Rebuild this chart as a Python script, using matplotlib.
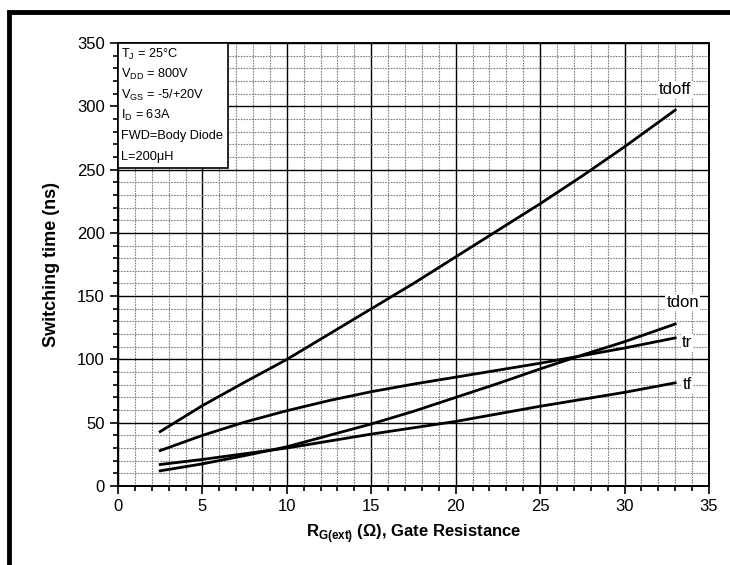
import matplotlib.pyplot as plt
from matplotlib.patches import Rectangle
from matplotlib.ticker import MultipleLocator

plt.rcParams['font.family'] = ['Liberation Sans', 'DejaVu Sans']

# Gate resistance (ohm) and switching times (ns)
rg = [2.5, 5, 7.5, 10, 12.5, 15, 17.5, 20, 22.5, 25, 27.5, 30, 33]
tdoff = [43, 63.5, 82, 100, 120, 140, 160, 181, 202, 223, 245, 268, 297]
tdon = [12, 17.5, 24, 31, 40, 49, 59, 70, 81, 92.5, 103.5, 114, 128]
tr = [28, 40, 50.5, 59.5, 67.5, 74.5, 80.5, 86, 91.5, 97, 103, 109, 117]
tf = [17, 21, 25.5, 30, 35.5, 41, 46, 51, 57, 63, 68.5, 74, 81.5]

curve_names = ['tdoff', 'tdon', 'tr', 'tf']
label_pos = [(33.0, 313), (33.45, 145), (33.7, 113), (33.7, 80)]

conditions = [r'T$_\mathregular{J}$ = 25°C',
              r'V$_\mathregular{DD}$ = 800V',
              r'V$_\mathregular{GS}$ = -5/+20V',
              r'I$_\mathregular{D}$ = 63A',
              'FWD=Body Diode',
              'L=200μH']

fig = plt.figure(figsize=(7.3, 5.65), dpi=100)
ax = fig.add_axes([0.1616, 0.1398, 0.8096, 0.7841])

for y in [tdoff, tdon, tr, tf]:
    ax.plot(rg, y, color='black', lw=2, zorder=3)

ax.set_xlim(0, 35)
ax.set_ylim(0, 350)
ax.xaxis.set_major_locator(MultipleLocator(5))
ax.xaxis.set_minor_locator(MultipleLocator(1))
ax.yaxis.set_major_locator(MultipleLocator(50))
ax.yaxis.set_minor_locator(MultipleLocator(10))
ax.grid(which='major', color='black', lw=1.0)
ax.grid(which='minor', color='0.5', lw=0.8, linestyle=(0, (1.5, 1)))
ax.set_axisbelow(True)
ax.tick_params(which='major', length=6, width=1.2, labelsize=12)
ax.tick_params(which='minor', length=3.5, width=1.2)
for s in ax.spines.values():
    s.set_linewidth(1.4)

for name, (x, y) in zip(curve_names, label_pos):
    ax.text(x, y, name, fontsize=12, ha='center', va='center', zorder=4,
            bbox=dict(facecolor='white', edgecolor='none', pad=1))

# conditions box in the top-left corner
ax.add_patch(Rectangle((0, 251), 6.5, 99, facecolor='white', edgecolor='black',
                       lw=1.2, zorder=4))
for i, line in enumerate(conditions):
    ax.text(0.15, 341 - i * 16.2, line, fontsize=9.2, ha='left', va='center',
            zorder=5)

ax.set_ylabel('Switching time (ns)', fontsize=13, fontweight='bold', labelpad=12)
ax.set_xlabel(r'R$_\mathregular{G(ext)}$ ($\mathregular{\Omega}$), Gate Resistance',
              fontsize=12, fontweight='bold', labelpad=6)

# thick outer frame (only left and top edges visible)
fig.patches.append(Rectangle((9 / 730, -0.1), 1.2, 1 - 12 / 565 + 0.1, fill=False,
                             edgecolor='black', lw=3.5, transform=fig.transFigure))

fig.savefig('out.png', dpi=100)
